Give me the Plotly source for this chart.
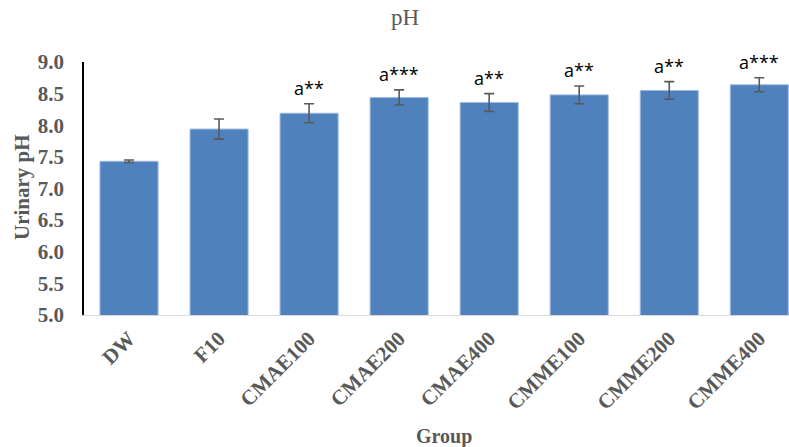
import plotly.graph_objects as go

groups = ["DW", "F10", "CMAE100", "CMAE200", "CMAE400", "CMME100", "CMME200", "CMME400"]
ph_mean = [7.43, 7.94, 8.19, 8.44, 8.36, 8.48, 8.55, 8.64]
ph_err = [0.02, 0.16, 0.15, 0.12, 0.14, 0.14, 0.14, 0.11]
sig_labels = ["", "", "a**", "a***", "a**", "a**", "a**", "a***"]
y_ticks = [5.0, 5.5, 6.0, 6.5, 7.0, 7.5, 8.0, 8.5, 9.0]

fig = go.Figure()
fig.add_trace(go.Bar(
    x=groups, y=ph_mean,
    marker=dict(color="#4f81bd", line=dict(color="#9dbbe0", width=1)),
    error_y=dict(type="data", array=ph_err, visible=True, color="#595959", thickness=1.6, width=5),
    width=0.645,
))

for g, m, e, s in zip(groups, ph_mean, ph_err, sig_labels):
    if s:
        fig.add_annotation(x=g, y=m + e, text=s, showarrow=False, yanchor="bottom", yshift=2,
                           font=dict(family="Open Sans, Liberation Sans, sans-serif", size=18, color="#000000"))

serif = "Liberation Serif, Times New Roman, serif"
fig.add_annotation(xref="paper", yref="paper", x=(22 - 84) / 705, y=(315 - 187) / 253, text="<b>Urinary pH</b>",
                   textangle=-90, xanchor="center", yanchor="middle",
                   showarrow=False, font=dict(family=serif, size=21, color="#595959"))
fig.add_annotation(xref="paper", yref="paper", x=(444 - 84) / 705, y=(315 - 437) / 253, text="<b>Group</b>",
                   xanchor="center", yanchor="middle",
                   showarrow=False, font=dict(family=serif, size=20, color="#595959"))
fig.add_annotation(xref="paper", yref="paper", x=(405 - 84) / 705, y=(315 - 18) / 253, text="pH",
                   xanchor="center", yanchor="middle",
                   showarrow=False, font=dict(family=serif, size=23, color="#595959"))

fig.update_layout(
    width=789, height=447,
    margin=dict(l=84, r=0, t=62, b=132),
    plot_bgcolor="white", paper_bgcolor="white",
    showlegend=False,
    xaxis=dict(range=[-0.5, 7.33], tickangle=-45, showline=True, linecolor="#d9d9d9", linewidth=1,
               ticks="", tickfont=dict(family=serif, size=21, color="#595959"), showgrid=False,
               automargin=False, ticklabelstandoff=2,
               tickvals=groups, ticktext=[f"<b>{g}</b>" for g in groups]),
    yaxis=dict(range=[5.0, 9.0], tickvals=y_ticks, ticktext=[f"<b>{v:.1f}</b>" for v in y_ticks],
               showline=True, linecolor="#000000", linewidth=1.8, ticks="", showgrid=False, zeroline=False,
               automargin=False, ticklabelstandoff=14,
               tickfont=dict(family=serif, size=21, color="#595959")),
)

fig.write_html("out.html", config={"displayModeBar": False},
               post_script="document.body.style.margin='0';document.body.style.overflow='hidden';")
